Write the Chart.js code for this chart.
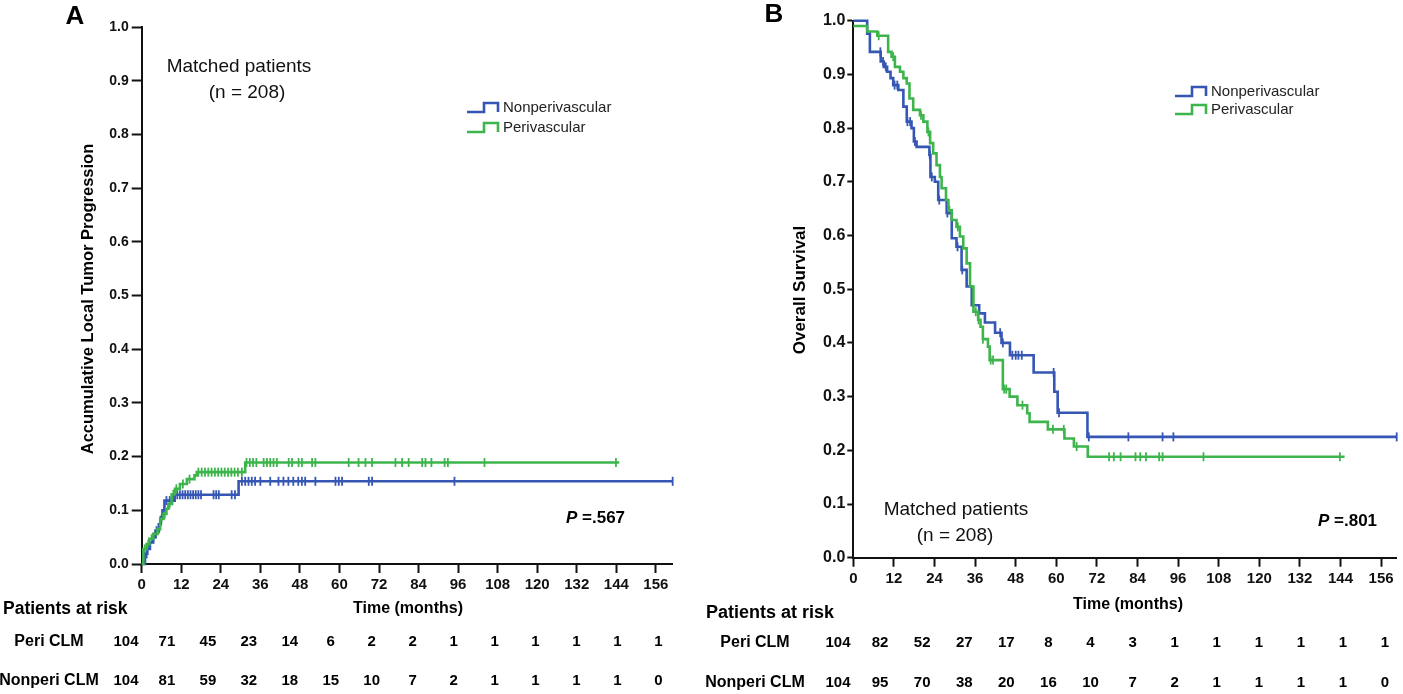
<!DOCTYPE html>
<html><head><meta charset="utf-8">
<script src="https://cdn.jsdelivr.net/npm/chart.js@4.4.0/dist/chart.umd.min.js"></script>
<style>
html,body{margin:0;padding:0;background:#fff;width:1403px;height:694px;overflow:hidden}
canvas{position:absolute;top:0}
#cA{left:0}
#cB{left:700px}
</style></head><body>
<canvas id="cA" width="700" height="694"></canvas>
<canvas id="cB" width="703" height="694"></canvas>
<script>
// ---------- data ----------
const X_TICKS = [0,12,24,36,48,60,72,84,96,108,120,132,144,156];
const SERIES_NAMES = ['Nonperivascular','Perivascular'];
const RISK_ROWS = ['Peri CLM','Nonperi CLM'];

// Panel A: accumulative local tumor progression
const A_NONPERI_T = [0,1.0,1.7,2.5,3.5,4.2,5.2,5.8,6.3,6.9,10.0,29.4];
const A_NONPERI_V = [0,0.019,0.028,0.040,0.050,0.062,0.074,0.087,0.100,0.118,0.129,0.154];
const A_NONPERI_END = 161.2;
const A_NONPERI_CENS = [1.5,3.5,4.5,7.5,8.5,9.3,10.8,11.6,12.4,13.2,14.0,14.8,15.6,16.4,17.2,18.0,21.8,22.6,23.4,27.3,28.3,30.4,31.4,32.4,33.4,34.4,36.0,39.0,41.5,43.0,44.5,46.0,47.5,48.6,49.6,52.7,58.8,59.8,60.8,68.9,69.9,94.9,161.1];
const A_PERI_T = [0,0.5,1.5,2.3,3.5,4.8,5.6,6.6,7.5,8.1,9.1,10.1,11.6,13.7,16.0,16.7,31.4];
const A_PERI_V = [0,0.028,0.037,0.047,0.056,0.065,0.084,0.093,0.103,0.112,0.130,0.140,0.149,0.158,0.165,0.171,0.189];
const A_PERI_END = 144.9;
const A_PERI_CENS = [0.9,2.0,3.0,4.2,5.3,6.0,7.0,8.5,9.6,10.5,12.5,14.5,17.2,18.2,19.2,20.2,21.2,22.2,23.2,24.2,25.2,26.2,27.2,28.2,29.2,30.4,31.8,32.8,33.8,34.8,37.0,38.0,39.0,40.0,41.0,44.6,45.6,47.6,48.6,51.7,52.7,62.8,65.8,67.9,69.9,77.0,79.0,81.0,85.1,86.1,87.9,91.9,92.9,104.0,143.9];
const A_RISK_PERI = [104,71,45,23,14,6,2,2,1,1,1,1,1,1];
const A_RISK_NONPERI = [104,81,59,32,18,15,10,7,2,1,1,1,1,0];

// Panel B: overall survival
const B_NONPERI_T = [0,4.1,4.9,8.1,9.0,10.0,11.0,11.8,13.3,14.8,15.8,17.2,17.9,18.7,22.5,22.8,24.1,25.1,27.6,29.1,30.5,32.0,33.5,35.0,37.2,38.9,41.9,43.8,46.3,53.3,59.4,60.4,69.2];
const B_NONPERI_V = [1,0.976,0.942,0.924,0.914,0.905,0.893,0.880,0.871,0.840,0.812,0.800,0.775,0.765,0.750,0.709,0.700,0.666,0.642,0.595,0.579,0.536,0.505,0.470,0.455,0.438,0.419,0.400,0.377,0.345,0.309,0.270,0.225];
const B_NONPERI_END = 160.6;
const B_NONPERI_CENS = [8.0,8.8,9.6,12.2,13.0,16.0,16.8,18.2,22.6,23.2,25.4,27.8,30.8,32.2,43.4,44.2,47.0,48.0,48.8,49.8,59.2,60.8,69.6,81.3,91.4,94.6,160.6];
const B_PERI_T = [0,4.1,7.1,10.3,11.3,12.3,13.8,14.8,15.8,16.6,17.7,19.7,20.7,21.9,22.7,23.6,24.6,25.6,26.1,27.4,28.1,29.1,30.5,31.5,32.5,33.5,34.5,35.5,36.9,37.6,38.3,39.8,40.3,44.2,46.2,48.5,51.4,52.1,57.5,62.4,65.2,69.3];
const B_PERI_V = [0.990,0.980,0.972,0.942,0.933,0.914,0.905,0.893,0.883,0.855,0.834,0.824,0.812,0.793,0.772,0.753,0.731,0.709,0.688,0.666,0.647,0.629,0.616,0.598,0.576,0.548,0.505,0.458,0.443,0.430,0.407,0.393,0.368,0.314,0.300,0.284,0.269,0.253,0.239,0.222,0.207,0.188];
const B_PERI_END = 145.2;
const B_PERI_CENS = [7.5,11.8,20.0,22.2,28.4,30.9,36.2,37.0,38.3,40.6,41.3,44.6,45.2,50.0,59.0,62.2,66.0,75.6,77.0,79.0,83.4,84.8,86.5,90.4,91.4,103.5,143.8];
const B_RISK_PERI = [104,82,52,27,17,8,4,3,1,1,1,1,1,1];
const B_RISK_NONPERI = [104,95,70,38,20,16,10,7,2,1,1,1,1,0];

// ---------- helpers ----------
const BLUE = '#3556b4';
const GREEN = '#3db54c';
const FONT = '"Liberation Sans", Arial, sans-serif';

function stepAt(ts, vs, t){ let v = vs[0]; for (let i=0;i<ts.length;i++){ if (ts[i] <= t) v = vs[i]; } return v; }
function curve(ts, vs, end){ const p = ts.map((t,i)=>({x:t,y:vs[i]})); p.push({x:end,y:vs[vs.length-1]}); return p; }
function cens(ts, vs, cs){ return cs.map(t=>({x:t,y:stepAt(ts,vs,t)})); }

function lineDs(data,color){ return {type:'line',data,borderColor:color,borderWidth:2.6,stepped:'before',pointRadius:0,fill:false,clip:false,tension:0}; }
function censDs(data,color){ return {type:'scatter',data,borderColor:color,backgroundColor:color,pointStyle:'line',rotation:90,pointRadius:4.5,pointBorderWidth:1.8,showLine:false,clip:false}; }

function txt(ctx, s, x, y, font, align, color){ ctx.save(); ctx.font = font; ctx.fillStyle = color||'#000'; ctx.textAlign = align||'center'; ctx.textBaseline='middle'; ctx.fillText(s,x,y); ctx.restore(); }

const decor = {
  id:'decor',
  afterDraw(chart){
    const c = chart.options.plugins.decor; const ctx = chart.ctx;
    txt(ctx, c.letter.s, c.letter.x, c.letter.y, 'bold 26px '+FONT);
    ctx.save(); ctx.translate(c.ytitle.x, c.ytitle.y); ctx.rotate(-Math.PI/2);
    txt(ctx, c.ytitle.s, 0, 0, 'bold '+c.ytitle.size+'px '+FONT); ctx.restore();
    txt(ctx, 'Matched patients', c.matched.x, c.matched.y, c.matched.size+'px '+FONT, 'center', '#111');
    txt(ctx, '(n = 208)', c.matched.x2, c.matched.y2, c.matched.size+'px '+FONT, 'center', '#111');
    const L = c.legend; const cols=[BLUE,GREEN];
    SERIES_NAMES.forEach((n,i)=>{
      const y = L.y + i*L.dy;
      ctx.save(); ctx.strokeStyle=cols[i]; ctx.lineWidth=2.6; ctx.beginPath();
      ctx.moveTo(L.x, y+4); ctx.lineTo(L.x+17, y+4); ctx.lineTo(L.x+17, y-5); ctx.lineTo(L.x+31, y-5); ctx.lineTo(L.x+31, y+4); ctx.stroke(); ctx.restore();
      txt(ctx, n, L.x+36, y, L.size+'px '+FONT, 'left', '#222');
    });
    ctx.save(); ctx.font = 'bold italic '+c.p.size+'px '+FONT; ctx.fillStyle='#000'; ctx.textBaseline='middle'; ctx.textAlign='left';
    ctx.fillText('P', c.p.x, c.p.y); const w = ctx.measureText('P').width;
    ctx.font = 'bold '+c.p.size+'px '+FONT; ctx.fillText(' =' + c.p.s, c.p.x + w, c.p.y); ctx.restore();
    txt(ctx, 'Time (months)', c.xtitle.x, c.xtitle.y, 'bold 16px '+FONT);
    const R = c.risk;
    txt(ctx, 'Patients at risk', R.hx, R.hy, 'bold '+R.hsize+'px '+FONT, 'left');
    RISK_ROWS.forEach((lab,i)=>{
      const y = R.rows[i];
      txt(ctx, lab, R.lx, y, 'bold 16px '+FONT);
      R.data[i].forEach((v,j)=>{ txt(ctx, String(v), R.x0 + j*R.dx, y, 'bold 15px '+FONT); });
    });
  }
};

function makeChart(id, cfg){
  return new Chart(document.getElementById(id), {
    data:{datasets:cfg.datasets},
    options:{
      responsive:false, animation:false, events:[],
      layout:{padding:{left:0,top:cfg.top,right:cfg.right,bottom:0}},
      plugins:{legend:{display:false}, tooltip:{enabled:false}, decor:cfg.decor},
      scales:{
        x:{type:'linear', min:0, max:cfg.xmax,
          afterFit(s){ s.height = cfg.xh; },
          afterBuildTicks(s){ s.ticks = X_TICKS.map(v=>({value:v})); },
          ticks:{font:{family:FONT,size:15,weight:'bold'},color:'#111',padding:3,maxRotation:0,autoSkip:false},
          grid:{drawOnChartArea:false,drawTicks:true,tickLength:9,tickColor:'#111',tickWidth:2},
          border:{display:true,color:'#111',width:2}},
        y:{type:'linear', min:0, max:1,
          afterFit(s){ s.width = cfg.yw; },
          ticks:{stepSize:0.1,font:{family:FONT,size:cfg.yfont,weight:'bold'},color:'#111',padding:cfg.ypad,callback:v=>v.toFixed(1)},
          grid:{drawOnChartArea:false,drawTicks:true,tickLength:cfg.ytl,tickColor:'#111',tickWidth:2},
          border:{display:true,color:'#111',width:2}}
      }
    },
    plugins:[decor]
  });
}

makeChart('cA', {
  top:27, right:28, xh:130, yw:141.7, xmax:160.9, yfont:14, ypad:3, ytl:10,
  datasets:[
    lineDs(curve(A_PERI_T,A_PERI_V,A_PERI_END),GREEN),
    lineDs(curve(A_NONPERI_T,A_NONPERI_V,A_NONPERI_END),BLUE),
    censDs(cens(A_PERI_T,A_PERI_V,A_PERI_CENS),GREEN),
    censDs(cens(A_NONPERI_T,A_NONPERI_V,A_NONPERI_CENS),BLUE)
  ],
  decor:{
    letter:{s:'A',x:75,y:17},
    ytitle:{s:'Accumulative Local Tumor Progression',x:88,y:299,size:16.5},
    matched:{x:239,y:67,x2:247,y2:93,size:19},
    legend:{x:467,y:108,dy:20,size:15},
    p:{s:'.567',x:566,y:518,size:17},
    xtitle:{x:408,y:609},
    risk:{hx:3,hy:609,hsize:17.5,lx:49,rows:[642,681],x0:126,dx:40.95,data:[A_RISK_PERI,A_RISK_NONPERI]}
  }
});

makeChart('cB', {
  top:20.7, right:5.5, xh:136.3, yw:153.3, xmax:160.6, yfont:16, ypad:2, ytl:6,
  datasets:[
    lineDs(curve(B_PERI_T,B_PERI_V,B_PERI_END),GREEN),
    lineDs(curve(B_NONPERI_T,B_NONPERI_V,B_NONPERI_END),BLUE),
    censDs(cens(B_PERI_T,B_PERI_V,B_PERI_CENS),GREEN),
    censDs(cens(B_NONPERI_T,B_NONPERI_V,B_NONPERI_CENS),BLUE)
  ],
  decor:{
    letter:{s:'B',x:74,y:15},
    ytitle:{s:'Overall Survival',x:100,y:290,size:17},
    matched:{x:256,y:510,x2:255,y2:536,size:19},
    legend:{x:475,y:92,dy:18,size:15},
    p:{s:'.801',x:618,y:521,size:17},
    xtitle:{x:428,y:605},
    risk:{hx:6,hy:613,hsize:18,lx:55,rows:[643,683],x0:138,dx:42.08,data:[B_RISK_PERI,B_RISK_NONPERI]}
  }
});
</script>
</body></html>
